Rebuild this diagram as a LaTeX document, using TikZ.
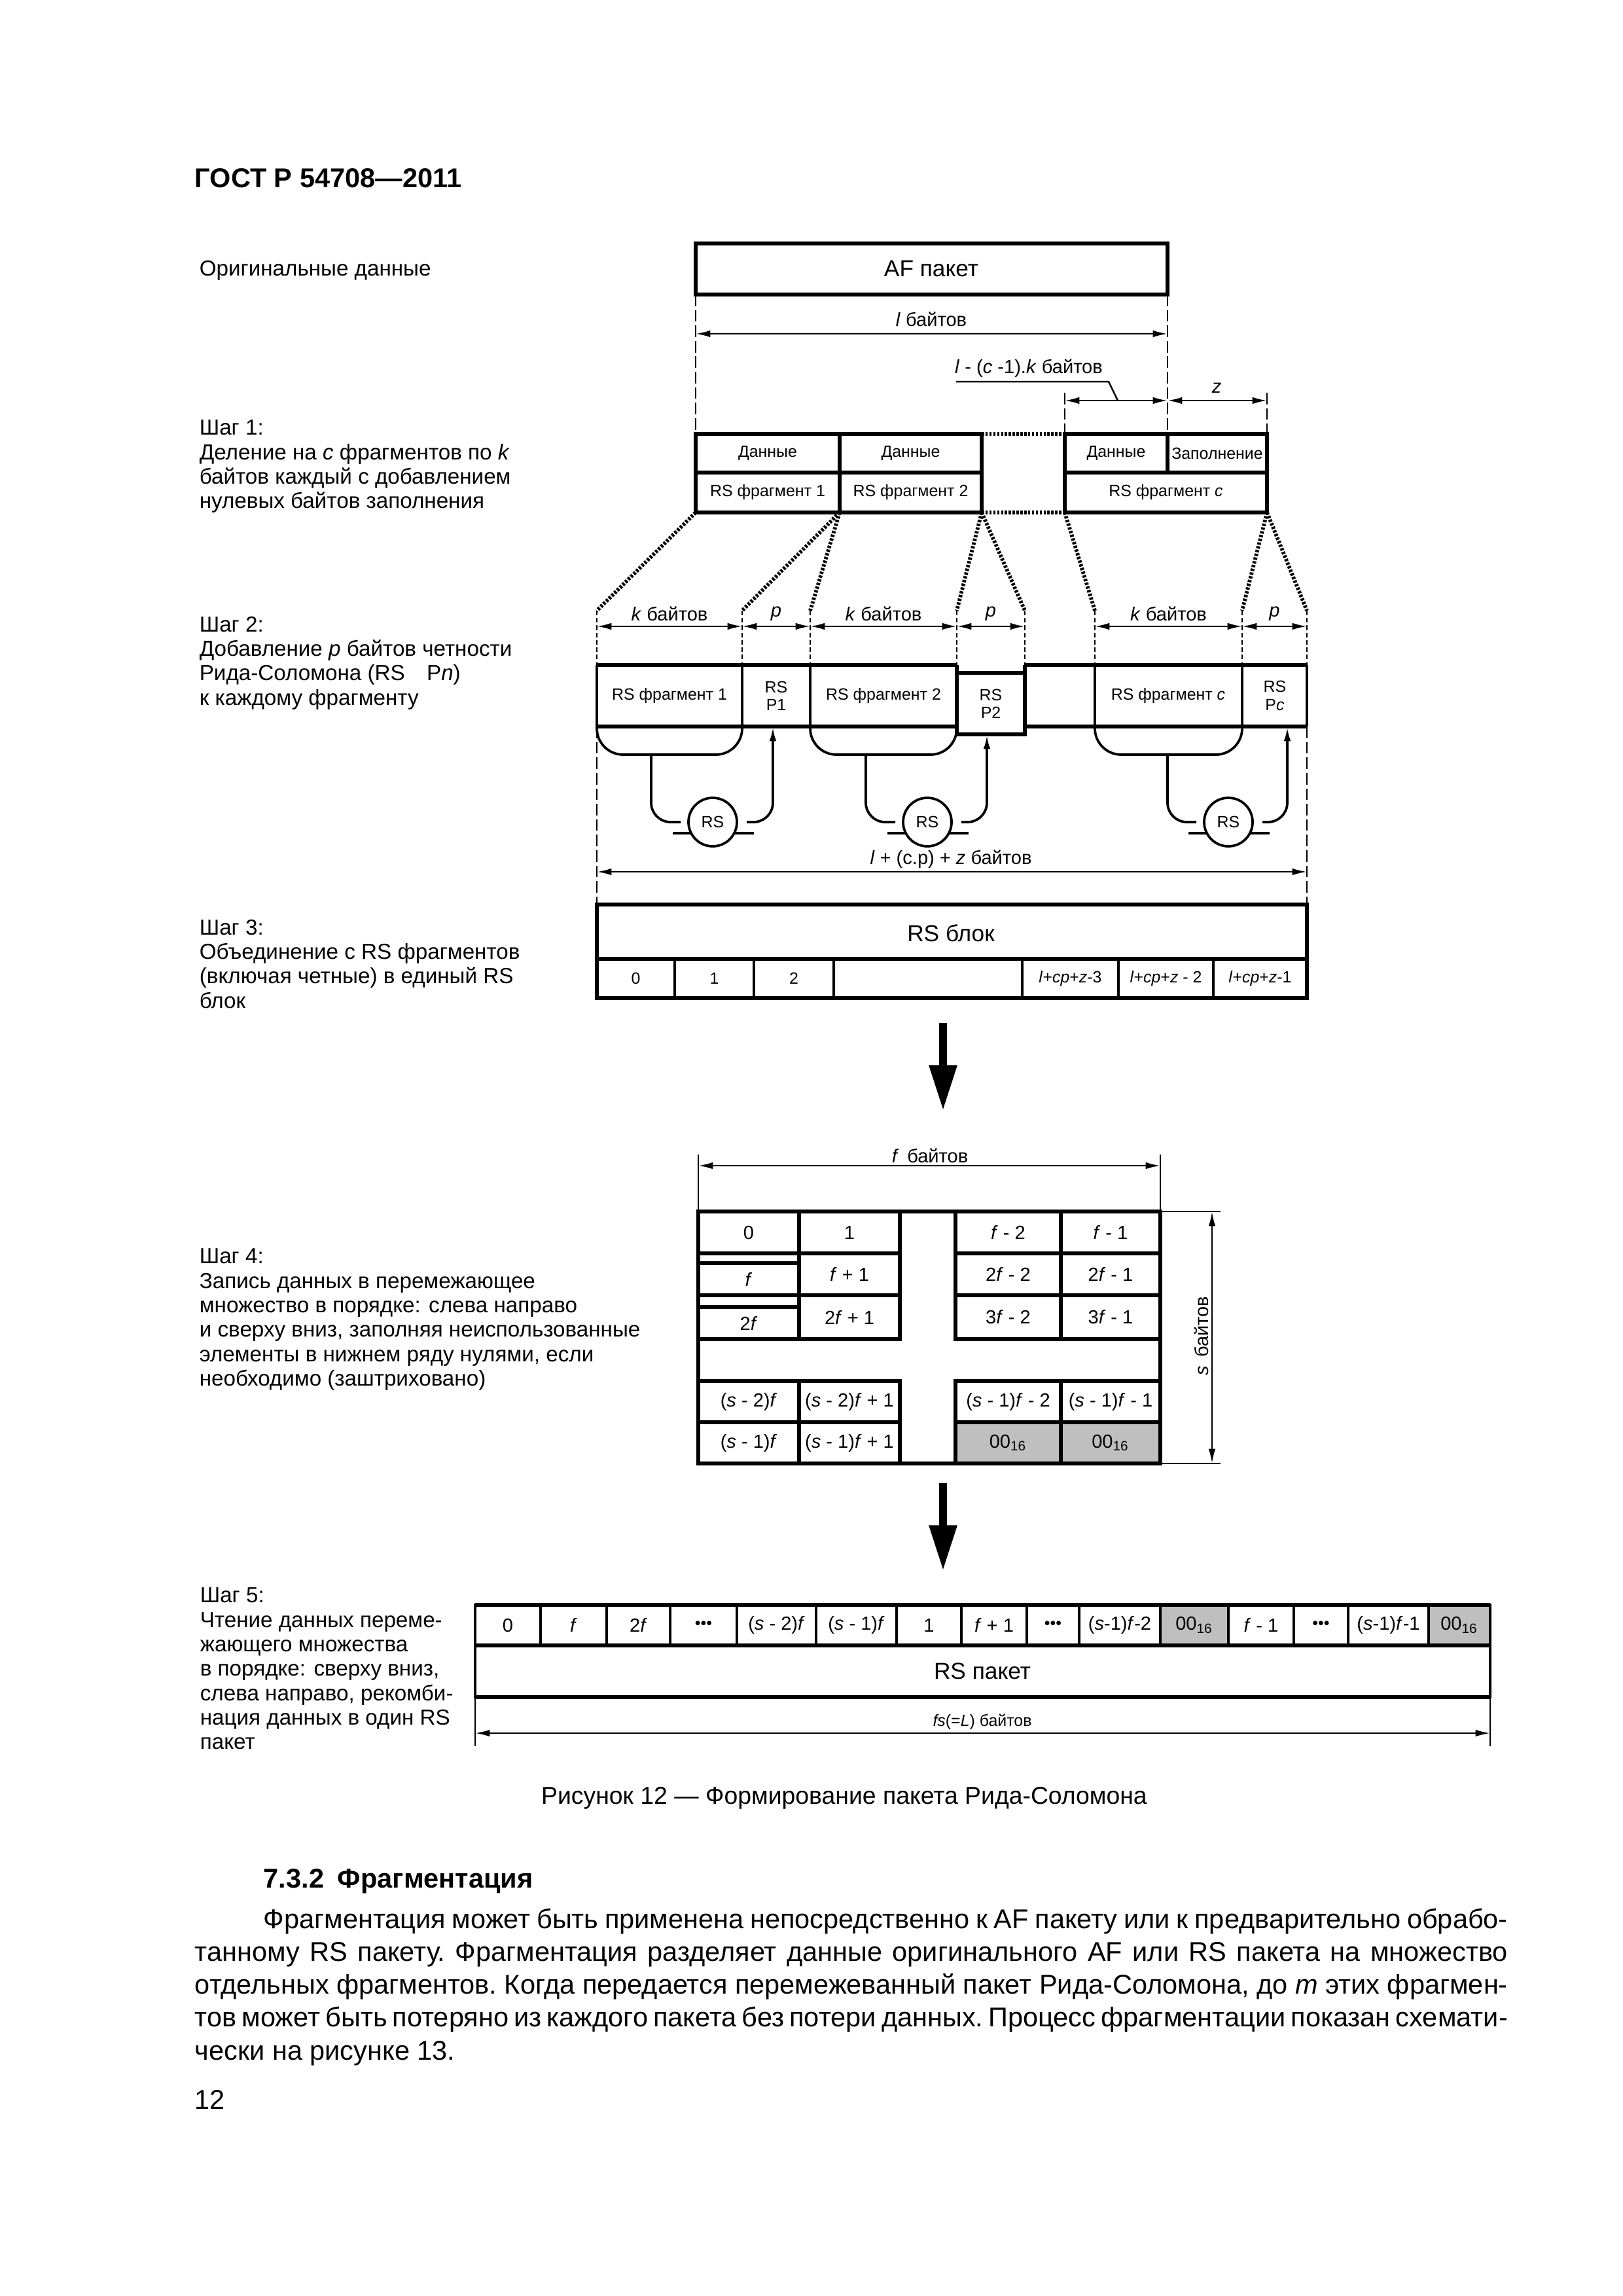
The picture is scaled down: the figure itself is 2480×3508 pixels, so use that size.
\documentclass[tikz,border=0pt]{standalone}
\usepackage{fontspec}
\setmainfont{Liberation Sans}
\usetikzlibrary{arrows.meta}
\newcommand\tightsp{\frenchspacing\spaceskip=0.27em plus 0.4em minus 0.12em\relax}

\begin{document}
\begin{tikzpicture}[x=0.0846667mm, y=-0.0846667mm,
    every node/.style={inner sep=0pt, font=\fontsize{6}{6.6}\selectfont},
    box/.style={line width=1.3pt},
    rib/.style={line width=0.9pt},
    ext/.style={line width=0.6pt},
    dim/.style={line width=0.6pt, {Latex[length=1.9mm,width=0.9mm]}-{Latex[length=1.9mm,width=0.9mm]}},
    longdash/.style={line width=0.7pt, dash pattern=on 1.5mm off 0.5mm},
    shortdash/.style={line width=0.7pt, dash pattern=on 0.6mm off 0.35mm},
    dots/.style={line width=1.4pt, dash pattern=on 0.3mm off 0.2mm},
    bigtxt/.style={font=\fontsize{8.5}{10}\selectfont},
    midtxt/.style={font=\fontsize{7}{8}\selectfont},
    steptxt/.style={anchor=north west, align=left, font=\fontsize{8}{9}\selectfont},
    bigarrow/.style={line width=1mm, -{Triangle[length=5.9mm,width=3.4mm]}}]

\fill[white] (0,0) rectangle (2480,3508);

\node[anchor=north west, font=\bfseries\fontsize{10}{12}\selectfont] (gost) at (297,257) {ГОСТ Р 54708—2011};
\node[steptxt] (orig) at (304,397) {Оригинальные данные};
\node[steptxt] (step1) at (304,641) {Шаг 1:\\Деление на \textit{c} фрагментов по \textit{k}\\байтов каждый с добавлением\\нулевых байтов заполнения};
\node[steptxt] (step2) at (304,941) {Шаг 2:\\Добавление \textit{p} байтов четности\\Рида-Соломона (RS\quad P\textit{n})\\к каждому фрагменту};
\node[steptxt] (step3) at (304,1404) {Шаг 3:\\Объединение с RS фрагментов\\(включая четные) в единый RS\\блок};
\node[steptxt] (step4) at (304,1907) {Шаг 4:\\Запись данных в перемежающее\\множество в порядке: слева направо\\и сверху вниз, заполняя неиспользованные\\элементы в нижнем ряду нулями, если\\необходимо (заштриховано)};
\node[steptxt] (step5) at (305,2425) {Шаг 5:\\Чтение данных переме-\\жающего множества\\в порядке: сверху вниз,\\слева направо, рекомби-\\нация данных в один RS\\пакет};

% AF
\draw[box] (1063,372) rectangle (1784,450);
\node[bigtxt] (af) at (1423,411) {AF пакет};
\draw[longdash] (1063,450) -- (1063,663) (1784,450) -- (1784,663);
\node[midtxt] (lbytes) at (1423,488) {\textit{l} байтов};
\draw[dim] (1063,510) -- (1784,510);
\node[midtxt] (lrest) at (1572,563) {\textit{l} - (\textit{c} -1).\textit{k} байтов};
\draw[ext] (1461,583) -- (1694,583) -- (1708,612);
\draw[dim] (1627,612) -- (1784,612);
\draw[dim] (1784,612) -- (1936,612);
\node[midtxt] (zz) at (1859,593) {\textit{z}};
\draw[longdash] (1627,600) -- (1627,663) (1936,600) -- (1936,663);

% step 1
\foreach \xa/\ya/\xb/\yb/\nm/\txt in {
  1063/663/1283/722/d1/Данные, 1283/663/1500/722/d2/Данные,
  1063/722/1283/783/f1/{RS фрагмент 1}, 1283/722/1500/783/f2/{RS фрагмент 2},
  1627/663/1784/722/dc/Данные, 1784/663/1936/722/pad/Заполнение,
  1627/722/1936/783/fc/{RS фрагмент \textit{c}}}
  {\draw[box] (\xa,\ya) rectangle (\xb,\yb);
   \node (\nm) at ({(\xa+\xb)/2},{(\ya+\yb)/2}) {\txt};}
\draw[dots] (1500,663) -- (1627,663) (1500,783) -- (1627,783);

% step 1 -> step 2
\draw[dots] (1063,783) -- (912,933);
\draw[dots] (1283,783) -- (1134,933);
\draw[dots] (1283,783) -- (1238,933);
\draw[dots] (1500,783) -- (1462,933);
\draw[dots] (1500,783) -- (1566,933);
\draw[dots] (1627,783) -- (1673,933);
\draw[dots] (1936,783) -- (1898,933);
\draw[dots] (1936,783) -- (1997,933);
\foreach \x in {912,1134,1238,1462,1673,1898,1997}
  \draw[shortdash] (\x,933) -- (\x,1016);
\draw[shortdash] (1566,933) -- (1566,1028);
\foreach \xa/\xb/\nm/\txt in {912/1134/k1/{\textit{k} байтов}, 1134/1238/p1/{\textit{p}},
  1238/1462/k2/{\textit{k} байтов}, 1462/1566/p2/{\textit{p}},
  1673/1898/kc/{\textit{k} байтов}, 1898/1997/pc/{\textit{p}}}
  {\draw[dim] (\xa,957) -- (\xb,957);
   \node[midtxt] (\nm) at ({(\xa+\xb)/2},938) {\txt};}

% step 2
\draw[box] (912,1016) -- (1462,1016) (1566,1016) -- (1997,1016);
\draw[box] (912,1110) -- (1462,1110) (1566,1110) -- (1997,1110);
\draw[box] (1462,1016) -- (1462,1122) -- (1566,1122) -- (1566,1016) (1462,1028) -- (1566,1028);
\foreach \x in {912,1134,1238,1673,1898,1997}
  \draw[rib] (\x,1016) -- (\x,1110);
\node (rf1) at (1023,1063) {RS фрагмент 1};
\node[align=center] (rp1) at (1186,1063) {RS\\P1};
\node (rf2) at (1350,1063) {RS фрагмент 2};
\node[align=center] (rp2) at (1514,1075) {RS\\P2};
\node (rfc) at (1785,1063) {RS фрагмент \textit{c}};
\node[align=center] (rpc) at (1948,1063) {RS\\P\textit{c}};

\foreach \l/\r/\s/\c/\a/\t/\n in {912/1134/995/1089/1181/1110/1,
  1238/1462/1323/1417/1508/1122/2, 1673/1898/1784/1877/1967/1110/3}
  {\draw[rib, rounded corners=3.4mm] (\l,1110) -- (\l,1153) -- (\r,1153) -- (\r,1110);
   \node[circle, draw, line width=0.9pt, minimum size=6.27mm] (rs\n) at (\c,1256) {RS};
   \draw[rib, rounded corners=2.5mm] (\s,1153) -- (\s,1256) -- ({\c-49},1256);
   \draw[rib, rounded corners=2.5mm, -{Latex[length=1.9mm,width=0.9mm]}] ({\c+52},1256) -- (\a,1256) -- (\a,\t);
   \draw[rib] ({\c-61},1273) -- ({\c-33},1273) ({\c+33},1273) -- ({\c+63},1273);}

\node[midtxt] (total) at (1453,1313) {\textit{l} + (c.p) + \textit{z} байтов};
\draw[dim] (912,1332) -- (1997,1332);
\draw[longdash] (912,1110) -- (912,1382) (1997,1110) -- (1997,1382);

% step 3
\draw[box] (912,1382) rectangle (1997,1525);
\draw[box] (912,1465) -- (1997,1465);
\node[bigtxt] (rsblk) at (1453,1426) {RS блок};
\foreach \xa/\xb/\nm/\txt in {912/1031/b0/0, 1031/1152/b1/1, 1152/1274/b2/2, 1274/1562/bx/{},
  1562/1709/b3/{\textit{l}+\textit{cp}+\textit{z}-3}, 1709/1854/b4/{\textit{l}+\textit{cp}+\textit{z} - 2},
  1854/1997/b5/{\textit{l}+\textit{cp}+\textit{z}-1}}
  {\draw[rib] (\xa,1465) -- (\xa,1525);
   \node (\nm) at ({(\xa+\xb)/2},1495) {\txt};}

\coordinate (a1s) at (1441,1563);
\coordinate (a1e) at (1441,1697);
\draw[bigarrow] (a1s) -- (a1e);

% step 4
\node[midtxt] (fbytes) at (1421,1766) {\textit{f}\, байтов};
\draw[dim] (1067,1781) -- (1773,1781);
\draw[ext] (1067,1764) -- (1067,1851) (1773,1764) -- (1773,1851);
\fill[black!25] (1460,2173) rectangle (1773,2236);
\foreach \xa/\ya/\xb/\yb/\nm/\txt in {
  1067/1851/1221/1915/g00/0, 1221/1851/1375/1915/g01/1,
  1460/1851/1621/1915/g02/{\textit{f} - 2}, 1621/1851/1773/1915/g03/{\textit{f} - 1},
  1067/1930/1221/1979/g10/{\textit{f}}, 1221/1915/1375/1979/g11/{\textit{f} + 1},
  1460/1915/1621/1979/g12/{2\textit{f} - 2}, 1621/1915/1773/1979/g13/{2\textit{f} - 1},
  1067/1997/1221/2046/g20/{2\textit{f}}, 1221/1979/1375/2046/g21/{2\textit{f} + 1},
  1460/1979/1621/2046/g22/{3\textit{f} - 2}, 1621/1979/1773/2046/g23/{3\textit{f} - 1},
  1067/2110/1221/2173/g30/{(\textit{s} - 2)\textit{f}}, 1221/2110/1375/2173/g31/{(\textit{s} - 2)\textit{f} + 1},
  1460/2110/1621/2173/g32/{(\textit{s} - 1)\textit{f} - 2}, 1621/2110/1773/2173/g33/{(\textit{s} - 1)\textit{f} - 1},
  1067/2173/1221/2236/g40/{(\textit{s} - 1)\textit{f}}, 1221/2173/1375/2236/g41/{(\textit{s} - 1)\textit{f} + 1},
  1460/2173/1621/2236/g42/{00\textsubscript{16}}, 1621/2173/1773/2236/g43/{00\textsubscript{16}}}
  {\draw[box] (\xa,\ya) rectangle (\xb,\yb);
   \node[midtxt] (\nm) at ({(\xa+\xb)/2},{(\ya+\yb)/2}) {\txt};}
\draw[box] (1067,1851) -- (1773,1851) -- (1773,2236) -- (1067,2236) -- cycle;
\draw[ext] (1773,1851) -- (1865,1851) (1773,2236) -- (1865,2236);
\draw[dim] (1852,1851) -- (1852,2236);
\node[midtxt, rotate=90] (sbytes) at (1836,2041) {\textit{s}\, байтов};

\coordinate (a2s) at (1441,2266);
\coordinate (a2e) at (1441,2400);
\draw[bigarrow] (a2s) -- (a2e);

% step 5
\fill[black!25] (1773,2452) rectangle (1877,2514) (2183,2452) rectangle (2277,2514);
\foreach \xa/\xb/\nm/\txt in {726/826/q0/0, 826/927/q1/{\textit{f}}, 927/1024/q2/{2\textit{f}},
  1024/1126/q3/{\fontsize{6}{6}\selectfont •••}, 1126/1247/q4/{(\textit{s} - 2)\textit{f}},
  1247/1370/q5/{(\textit{s} - 1)\textit{f}}, 1370/1469/q6/1, 1469/1569/q7/{\textit{f} + 1},
  1569/1649/q8/{\fontsize{6}{6}\selectfont •••}, 1649/1773/q9/{(\textit{s}-1)\textit{f}-2},
  1773/1877/q10/{00\textsubscript{16}}, 1877/1977/q11/{\textit{f} - 1},
  1977/2060/q12/{\fontsize{6}{6}\selectfont •••}, 2060/2183/q13/{(\textit{s}-1)\textit{f}-1},
  2183/2277/q14/{00\textsubscript{16}}}
  {\draw[rib] (\xa,2452) rectangle (\xb,2514);
   \node[midtxt] (\nm) at ({(\xa+\xb)/2},2483) {\txt};}
\draw[rib] (726,2514) rectangle (2277,2593);
\draw[box] (726,2452) -- (2277,2452) (726,2514) -- (2277,2514) (726,2593) -- (2277,2593);
\node[bigtxt] (rspak) at (1501,2553) {RS пакет};
\draw[ext] (726,2593) -- (726,2668) (2277,2593) -- (2277,2668);
\node (fsl) at (1501,2631) {\textit{fs}(=\textit{L}) байтов};
\draw[dim] (726,2648) -- (2277,2648);

% caption and text
\node[font=\fontsize{9}{11}\selectfont] (cap) at (1290,2747) {Рисунок 12 — Формирование пакета Рида-Соломона};
\node[anchor=west, font=\bfseries\fontsize{10}{12}\selectfont] (sec) at (402,2874) {7.3.2\enspace Фрагментация};
\node[anchor=north west, align=left, font=\fontsize{10}{12.1}\selectfont] (body) at (297,2915) {%
\hspace*{8.89mm}\makebox[160.95mm][s]{\tightsp Фрагментация может быть применена непосредственно к AF пакету или к предварительно обрабо-}\\
\makebox[169.84mm][s]{\tightsp танному RS пакету. Фрагментация разделяет данные оригинального AF или RS пакета на множество}\\
\makebox[169.84mm][s]{\tightsp отдельных фрагментов. Когда передается перемежеванный пакет Рида-Соломона, до \textit{m} этих фрагмен-}\\
\makebox[169.84mm][s]{\tightsp тов может быть потеряно из каждого пакета без потери данных. Процесс фрагментации показан схемати-}\\
чески на рисунке 13.};
\node[anchor=west, font=\fontsize{10}{12}\selectfont] (pgno) at (297,3208) {12};
\end{tikzpicture}
\end{document}
